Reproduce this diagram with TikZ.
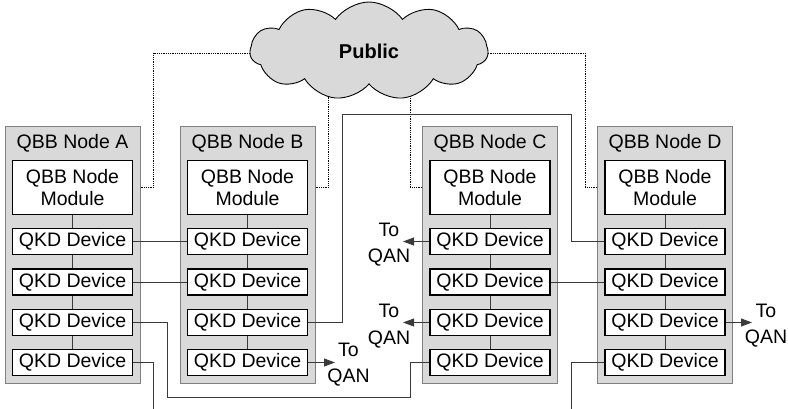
\documentclass[tikz,border=0pt]{standalone}
\usepackage{fontspec}
\setmainfont{Liberation Sans}
\usetikzlibrary{shapes.symbols,arrows.meta,calc,backgrounds}
\definecolor{boxgray}{HTML}{D9D9D9}
\definecolor{edgegray}{HTML}{808080}
\definecolor{linegray}{HTML}{3A3A3A}
\begin{document}
\begin{tikzpicture}[x=1pt,y=-1pt,
  outerbox/.style={draw=edgegray,fill=boxgray,line width=1pt,minimum width=135pt,minimum height=256pt,inner sep=0pt},
  titletext/.style={font=\fontsize{19.5}{23}\selectfont,inner sep=0pt},
  modbox/.style={draw=black,fill=white,line width=1.7pt,minimum width=120pt,minimum height=54pt,inner sep=0pt,align=center,font=\fontsize{19.5}{21.5}\selectfont},
  devbox/.style={draw=black,fill=white,line width=1.7pt,minimum width=120pt,minimum height=26pt,inner sep=0pt,font=\fontsize{19.5}{23}\selectfont},
  link/.style={draw=linegray,line width=0.9pt},
  pub/.style={draw=black,densely dotted,line width=0.8pt},
  arr/.style={link,-{Triangle[length=11pt,width=8pt]}},
  qan/.style={align=center,inner sep=0pt,font=\fontsize{19.5}{26.5}\selectfont}
]
\useasboundingbox (0,0) rectangle (788,409);

\foreach \n/\x in {A/72.5,B/247.5,C/490,D/665}{
  \node[outerbox] (\n) at (\x,255) {};
  \node[titletext] (\n t) at (\x,143.5) {QBB Node \n};
  \node[modbox] (\n m) at (\x,187.5) {QBB Node\\Module};
  \foreach \i/\y in {1/241.5,2/282,3/322.5,4/362.5}{
    \node[devbox] (\n\i) at (\x,\y) {QKD Device};
  }
  \draw[link] (\n m) -- (\n1) (\n1) -- (\n2) (\n2) -- (\n3) (\n3) -- (\n4);
}

% cloud
\node[cloud, draw=black, fill=boxgray, cloud puffs=11, cloud puff arc=110,
      aspect=2.4, minimum width=238pt, minimum height=98pt, inner sep=0pt,
      line width=0.9pt, font=\bfseries\fontsize{20}{24}\selectfont] (cloud) at (369,51) {Public};

\begin{scope}[on background layer]
  \draw[pub] (A.east |- Am) -| (153,53) -| (cloud.center);
  \draw[pub] (B.east |- Bm) -| (328,60) -| (cloud.center);
  \draw[pub] (C.west |- Cm) -| (410,60) -| (cloud.center);
  \draw[pub] (D.west |- Dm) -| (585,53) -| (cloud.center);
\end{scope}

% QKD links
\draw[link] (A1) -- (B1);
\draw[link] (A2) -- (B2);
\draw[link] (C2) -- (D2);
\draw[link] (A3.east) -| (167,397) -| (410,362.5) -- (C4.west);
\coordinate (A4end) at (153,409);
\draw[link] (A4.east) -| (A4end);
\draw[link] (B3.east) -| (342,114) -| (571,241.5) -- (D1.west);
\coordinate (D4end) at (571,409);
\draw[link] (D4.west) -| (D4end);

% To QAN
\node[qan] (qanB) at (348.5,364.75) {To\\QAN};
\node[qan] (qanC1) at (389,244.75) {To\\QAN};
\node[qan] (qanC3) at (389,326) {To\\QAN};
\node[qan] (qanD) at (766,325.75) {To\\QAN};
\coordinate (eB) at (335,362.5);
\coordinate (eC1) at (403,241.5);
\coordinate (eC3) at (403,322.5);
\coordinate (eD) at (752,322.5);
\draw[arr] (B4.east) -- (eB);
\draw[arr] (C1.west) -- (eC1);
\draw[arr] (C3.west) -- (eC3);
\draw[arr] (D3.east) -- (eD);
\end{tikzpicture}
\end{document}
